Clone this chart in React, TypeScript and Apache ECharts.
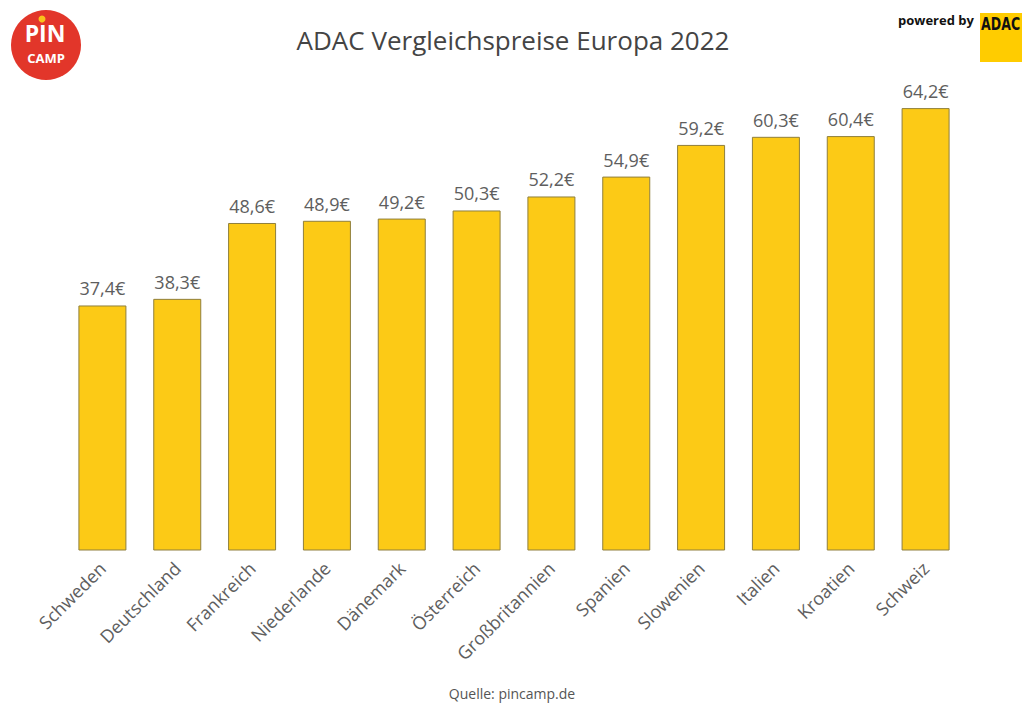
import React, { useEffect, useRef } from "react";
import * as echarts from "echarts";

const countries = [
  "Schweden",
  "Deutschland",
  "Frankreich",
  "Niederlande",
  "Dänemark",
  "Österreich",
  "Großbritannien",
  "Spanien",
  "Slowenien",
  "Italien",
  "Kroatien",
  "Schweiz",
];
const prices = [37.4, 38.3, 48.6, 48.9, 49.2, 50.3, 52.2, 54.9, 59.2, 60.3, 60.4, 64.2];

const titleText = "ADAC Vergleichspreise Europa 2022";
const sourceText = "Quelle: pincamp.de";

const FONT = "'Open Sans', 'Noto Sans', sans-serif";

export default function App() {
  const ref = useRef<HTMLDivElement>(null);
  useEffect(() => {
    if (!ref.current) return;
    const chart = echarts.init(ref.current, null, { renderer: "svg" });
    chart.setOption({
      animation: false,
      backgroundColor: "#ffffff",
      grid: { left: 65, right: 59, top: 93, bottom: 153 },
      xAxis: {
        type: "category",
        data: countries,
        axisLine: { show: false },
        axisTick: { show: false },
        axisLabel: {
          interval: 0,
          rotate: 45,
          margin: 15,
          fontSize: 18,
          fontFamily: FONT,
          color: "#5e5e5e",
        },
      },
      yAxis: {
        type: "value",
        min: 4.2,
        max: 66.25,
        show: false,
        splitLine: { show: false },
      },
      series: [
        {
          type: "bar",
          data: prices,
          barWidth: 48,
          itemStyle: { color: "#FCCA16", borderColor: "#8f7f3c", borderWidth: 1 },
          label: {
            show: true,
            position: "top",
            distance: 8,
            fontSize: 18,
            fontFamily: FONT,
            color: "#5e5e5e",
            formatter: (p: any) => String(p.value.toFixed(1)).replace(".", ",") + "€",
          },
        },
      ],
      graphic: [
        {
          type: "text",
          x: 513,
          y: 40,
          style: {
            text: titleText,
            font: `26px ${FONT}`,
            fill: "#444444",
            align: "center",
            verticalAlign: "middle",
          },
        },
        {
          type: "text",
          x: 512,
          y: 693,
          style: {
            text: sourceText,
            font: `14px ${FONT}`,
            fill: "#555555",
            align: "center",
            verticalAlign: "middle",
          },
        },
        // PiN CAMP logo
        { type: "circle", shape: { cx: 46, cy: 45, r: 35 }, style: { fill: "#E2362A" } },
        { type: "circle", shape: { cx: 42, cy: 19, r: 3.5 }, style: { fill: "#F9C21B" } },
        {
          type: "text",
          x: 45,
          y: 33,
          style: {
            text: "PIN",
            font: `bold 23px ${FONT}`,
            fill: "#ffffff",
            align: "center",
            verticalAlign: "middle",
          },
        },
        {
          type: "text",
          x: 46,
          y: 58,
          style: {
            text: "CAMP",
            font: `bold 13px ${FONT}`,
            fill: "#ffffff",
            align: "center",
            verticalAlign: "middle",
          },
        },
        // powered by ADAC
        {
          type: "text",
          x: 898,
          y: 20,
          style: {
            text: "powered by",
            font: `bold 13px ${FONT}`,
            fill: "#111111",
            verticalAlign: "middle",
          },
        },
        { type: "rect", shape: { x: 980, y: 13, width: 50, height: 49 }, style: { fill: "#FFCC00" } },
        {
          type: "text",
          x: 981,
          y: 24,
          scaleX: 0.74,
          style: {
            text: "ADAC",
            font: `bold 17px 'DejaVu Sans', sans-serif`,
            fill: "#111111",
            verticalAlign: "middle",
          },
        },
      ],
    });
    return () => chart.dispose();
  }, []);
  return (
    <div
      ref={ref}
      style={{ position: "absolute", left: 0, top: 0, width: 1022, height: 703 }}
    />
  );
}
